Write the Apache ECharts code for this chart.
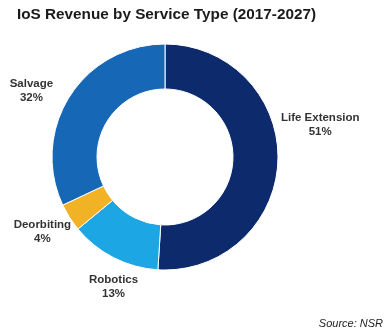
<!DOCTYPE html>
<html>
<head>
<meta charset="utf-8">
<script src="https://cdn.jsdelivr.net/npm/echarts@6/dist/echarts.min.js"></script>
<style>html,body{margin:0;padding:0;background:#fff}#c{width:390px;height:334px}</style>
</head>
<body>
<div id="c"></div>
<script>
var categories = ["Life Extension", "Robotics", "Deorbiting", "Salvage"];
var values = [51, 13, 4, 32];
var colors = ["#0d2a6c", "#1ca6e3", "#f1b226", "#1667b6"];
// label nudges from default outside position (styling only)
var labelShift = [[-12, -36], [34, 20], [15, 9], [-3, 0]];

var chart = echarts.init(document.getElementById('c'), null, {renderer: 'canvas'});
chart.setOption({
  animation: false,
  backgroundColor: '#ffffff',
  title: [{
    text: 'IoS Revenue by Service Type (2017-2027)',
    left: 12, top: 2,
    textStyle: {fontFamily: 'Liberation Sans, Arial, sans-serif', fontWeight: 'bold', fontSize: 15.3, color: '#1a1a1a'}
  }, {
    text: 'Source: NSR',
    right: 2, bottom: 0,
    textStyle: {fontFamily: 'Liberation Sans, Arial, sans-serif', fontWeight: 'normal', fontStyle: 'italic', fontSize: 11, color: '#222'}
  }],
  series: [{
    type: 'pie',
    center: [165, 157],
    radius: [68, 113],
    startAngle: 90,
    clockwise: true,
    data: categories.map(function (c, i) { return {name: c, value: values[i], itemStyle: {color: colors[i]}}; }),
    itemStyle: {borderColor: '#fff', borderWidth: 1},
    label: {
      show: true,
      position: 'outside',
      formatter: '{b}\n{c}%',
      fontFamily: 'Liberation Sans, Arial, sans-serif',
      fontWeight: 'bold',
      fontSize: 11.5,
      lineHeight: 14,
      color: '#333',
      overflow: 'none'
    },
    labelLine: {show: false, length: 10, length2: 0},
    labelLayout: function (p) {
      var s = labelShift[p.dataIndex];
      var r = p.labelRect;
      return {
        x: r.x + r.width / 2 + s[0],
        y: r.y + r.height / 2 + s[1],
        align: 'center',
        verticalAlign: 'middle'
      };
    }
  }]
});
</script>
</body>
</html>
